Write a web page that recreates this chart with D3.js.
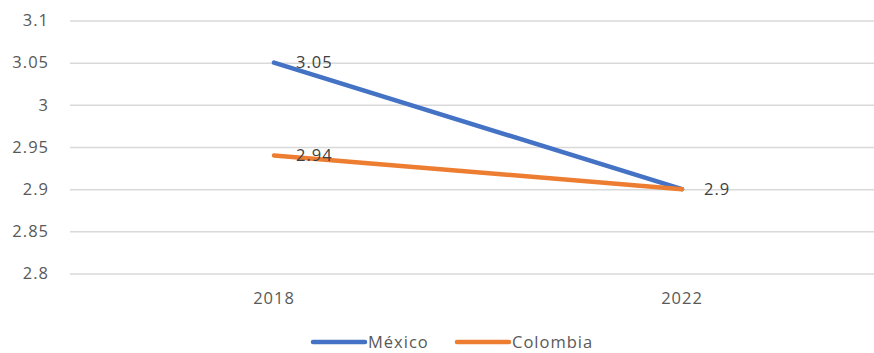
<!DOCTYPE html>
<html>
<head>
<meta charset="utf-8">
<script src="https://cdn.jsdelivr.net/npm/d3@7/dist/d3.min.js"></script>
<style>
  html, body { margin: 0; padding: 0; background: #fff; }
  svg { display: block; }
  text { font-family: "Open Sans", "Noto Sans", sans-serif; }
</style>
</head>
<body>
<svg id="chart" width="874" height="353"></svg>
<script>
// Years on the category axis
const years = ["2018", "2022"];
// Series values per year
const mexico = [3.05, 2.9];
const colombia = [2.94, 2.9];
// Value axis ticks
const yTicks = [2.8, 2.85, 2.9, 2.95, 3, 3.05, 3.1];
const seriesNames = ["México", "Colombia"];
const seriesColors = ["#4472C4", "#ED7D31"];

const series = [
  { name: seriesNames[0], color: seriesColors[0], values: mexico, labelAt: [0] },
  { name: seriesNames[1], color: seriesColors[1], values: colombia, labelAt: [0, 1] }
];

const svg = d3.select("#chart");
const plot = { left: 70, right: 886, top: 20.5, bottom: 273.5 };

const x = d3.scaleBand().domain(years).range([plot.left, plot.right]);
const y = d3.scaleLinear().domain([2.8, 3.1]).range([plot.bottom, plot.top]);
const cx = d => x(d) + x.bandwidth() / 2;

// Horizontal gridlines with value labels
const yAxis = d3.axisLeft(y)
  .tickValues(yTicks)
  .tickFormat(d => String(+d.toFixed(2)))
  .tickSize(-(plot.right - plot.left))
  .tickPadding(21);

const gy = svg.append("g")
  .attr("transform", `translate(${plot.left},0)`)
  .call(yAxis);
gy.select(".domain").remove();
gy.selectAll(".tick line").attr("stroke", "#d9d9d9").attr("stroke-width", 1.5);
gy.selectAll(".tick text")
  .attr("fill", "#595959")
  .style("font-size", "16.5px")
  .style("letter-spacing", "1px");

// Category labels
const xAxis = d3.axisBottom(x).tickSize(0).tickPadding(19);
const gx = svg.append("g")
  .attr("transform", `translate(0,${plot.bottom})`)
  .call(xAxis);
gx.select(".domain").remove();
gx.selectAll(".tick text")
  .attr("fill", "#595959")
  .style("font-size", "16.5px")
  .style("letter-spacing", "1px");

// Lines
const line = d3.line().x((d, i) => cx(years[i])).y(d => y(d));
series.forEach(s => {
  svg.append("path")
    .datum(s.values)
    .attr("fill", "none")
    .attr("stroke", s.color)
    .attr("stroke-width", 4.5)
    .attr("stroke-linecap", "round")
    .attr("stroke-linejoin", "round")
    .attr("d", line);
});

// Value labels to the right of points
series.forEach(s => {
  s.labelAt.forEach(i => {
    svg.append("text")
      .attr("x", cx(years[i]) + 22)
      .attr("y", y(s.values[i]))
      .attr("dy", "0.35em")
      .attr("fill", "#404040")
      .style("font-size", "16.5px")
      .style("letter-spacing", "1px")
      .text(String(s.values[i]));
  });
});

// Legend
const legendY = 342;
const legendItems = [
  { x: 313, s: series[0] },
  { x: 457, s: series[1] }
];
legendItems.forEach(item => {
  svg.append("line")
    .attr("x1", item.x).attr("x2", item.x + 52)
    .attr("y1", legendY).attr("y2", legendY)
    .attr("stroke", item.s.color)
    .attr("stroke-width", 4.5)
    .attr("stroke-linecap", "round");
  svg.append("text")
    .attr("x", item.x + 55)
    .attr("y", legendY)
    .attr("dy", "0.35em")
    .attr("fill", "#595959")
    .style("font-size", "16.5px")
    .style("letter-spacing", "1px")
    .text(item.s.name);
});
</script>
</body>
</html>
